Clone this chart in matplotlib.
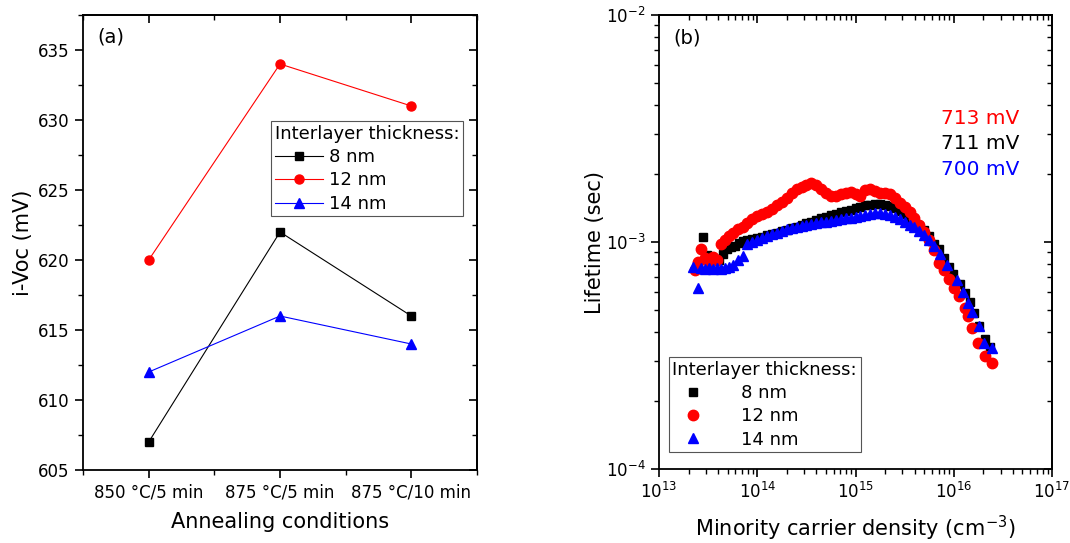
import matplotlib

matplotlib.use("Agg")
import matplotlib.pyplot as plt
from matplotlib.ticker import MultipleLocator, LogLocator, NullFormatter

# panel (a): implied Voc per annealing condition
conditions = ["850 °C/5 min", "875 °C/5 min", "875 °C/10 min"]
voc_8nm = [607, 622, 616]
voc_12nm = [620, 634, 631]
voc_14nm = [612, 616, 614]

# panel (b): lifetime vs minority carrier density
dens_12nm = [2.34e13, 2.51e13, 2.69e13, 2.95e13, 3.24e13, 3.55e13, 3.89e13, 4.27e13,
             4.68e13, 5.13e13, 5.62e13, 6.31e13, 7.08e13, 7.94e13, 8.91e13,
             1.00e14, 1.12e14, 1.26e14, 1.41e14, 1.58e14, 1.78e14, 2.00e14, 2.24e14,
             2.51e14, 2.82e14, 3.16e14, 3.55e14, 3.98e14, 4.47e14, 5.01e14, 5.62e14,
             6.31e14, 7.08e14, 7.94e14, 8.91e14,
             1.00e15, 1.12e15, 1.26e15, 1.41e15, 1.58e15, 1.78e15, 2.00e15, 2.24e15,
             2.51e15, 2.82e15, 3.16e15, 3.55e15, 3.98e15, 4.47e15, 5.01e15, 5.62e15,
             6.31e15, 7.08e15, 7.94e15, 8.91e15,
             1.00e16, 1.12e16, 1.29e16, 1.41e16, 1.55e16, 1.78e16, 2.09e16, 2.45e16]
tau_12nm = [7.5e-4, 8.2e-4, 9.3e-4, 8.5e-4, 8.2e-4, 8.6e-4, 8.3e-4, 9.8e-4,
            1.02e-3, 1.06e-3, 1.10e-3, 1.14e-3, 1.17e-3, 1.21e-3, 1.26e-3,
            1.30e-3, 1.33e-3, 1.36e-3, 1.40e-3, 1.45e-3, 1.50e-3, 1.57e-3, 1.64e-3,
            1.71e-3, 1.75e-3, 1.79e-3, 1.82e-3, 1.78e-3, 1.71e-3, 1.64e-3, 1.59e-3,
            1.60e-3, 1.63e-3, 1.64e-3, 1.66e-3,
            1.62e-3, 1.59e-3, 1.70e-3, 1.72e-3, 1.68e-3, 1.65e-3, 1.64e-3, 1.62e-3,
            1.56e-3, 1.49e-3, 1.42e-3, 1.35e-3, 1.27e-3, 1.19e-3, 1.11e-3, 1.02e-3,
            9.2e-4, 8.1e-4, 7.5e-4, 6.9e-4,
            6.3e-4, 5.8e-4, 5.1e-4, 4.7e-4, 4.2e-4, 3.6e-4, 3.15e-4, 2.93e-4]

dens_8nm = [2.82e13, 3.09e13, 3.39e13, 3.72e13, 4.07e13, 4.47e13, 4.90e13, 5.37e13,
            5.89e13, 6.46e13, 7.08e13, 7.94e13, 8.91e13,
            1.00e14, 1.12e14, 1.26e14, 1.41e14, 1.58e14, 1.78e14, 2.00e14, 2.24e14,
            2.51e14, 2.82e14, 3.16e14, 3.55e14, 3.98e14, 4.47e14, 5.01e14, 5.62e14,
            6.31e14, 7.08e14, 7.94e14, 8.91e14,
            1.00e15, 1.12e15, 1.26e15, 1.41e15, 1.58e15, 1.78e15, 2.00e15, 2.24e15,
            2.51e15, 2.82e15, 3.16e15, 3.55e15, 3.98e15, 4.47e15, 5.01e15, 5.62e15,
            6.31e15, 7.08e15, 7.94e15, 8.91e15, 9.77e15,
            1.15e16, 1.29e16, 1.45e16, 1.62e16, 1.82e16, 2.09e16, 2.34e16]
tau_8nm = [1.05e-3, 8.8e-4, 8.6e-4, 8.4e-4, 8.3e-4, 8.9e-4, 9.3e-4, 9.5e-4,
           9.6e-4, 9.9e-4, 1.01e-3, 1.02e-3, 1.03e-3,
           1.04e-3, 1.05e-3, 1.07e-3, 1.08e-3, 1.10e-3, 1.12e-3, 1.13e-3, 1.15e-3,
           1.17e-3, 1.19e-3, 1.21e-3, 1.23e-3, 1.25e-3, 1.27e-3, 1.29e-3, 1.31e-3,
           1.33e-3, 1.35e-3, 1.37e-3, 1.39e-3,
           1.41e-3, 1.43e-3, 1.45e-3, 1.46e-3, 1.47e-3, 1.47e-3, 1.46e-3, 1.44e-3,
           1.41e-3, 1.37e-3, 1.33e-3, 1.28e-3, 1.23e-3, 1.18e-3, 1.13e-3, 1.06e-3,
           9.8e-4, 9.3e-4, 8.5e-4, 7.8e-4, 7.2e-4,
           6.5e-4, 5.96e-4, 5.44e-4, 4.87e-4, 4.26e-4, 3.75e-4, 3.45e-4]

dens_14nm = [2.24e13, 2.51e13, 2.69e13, 2.95e13, 3.24e13, 3.55e13, 3.89e13, 4.27e13,
             4.68e13, 5.13e13, 5.62e13, 6.31e13, 7.08e13, 7.94e13, 8.91e13,
             1.00e14, 1.12e14, 1.26e14, 1.41e14, 1.58e14, 1.78e14, 2.00e14, 2.24e14,
             2.51e14, 2.82e14, 3.16e14, 3.55e14, 3.98e14, 4.47e14, 5.01e14, 5.62e14,
             6.31e14, 7.08e14, 7.94e14, 8.91e14,
             1.00e15, 1.12e15, 1.26e15, 1.41e15, 1.58e15, 1.78e15, 2.00e15, 2.24e15,
             2.51e15, 2.82e15, 3.16e15, 3.55e15, 3.98e15, 4.47e15, 5.01e15, 5.62e15,
             6.31e15, 7.24e15, 8.51e15,
             1.07e16, 1.23e16, 1.38e16, 1.55e16, 1.82e16, 2.04e16, 2.45e16]
tau_14nm = [7.8e-4, 6.3e-4, 7.7e-4, 7.6e-4, 7.7e-4, 7.6e-4, 7.7e-4, 7.6e-4,
            7.7e-4, 7.8e-4, 7.9e-4, 8.3e-4, 8.7e-4, 9.8e-4, 1.00e-3,
            1.02e-3, 1.04e-3, 1.06e-3, 1.08e-3, 1.10e-3, 1.12e-3, 1.14e-3, 1.15e-3,
            1.17e-3, 1.18e-3, 1.19e-3, 1.20e-3, 1.21e-3, 1.22e-3, 1.23e-3, 1.24e-3,
            1.25e-3, 1.26e-3, 1.27e-3, 1.28e-3,
            1.29e-3, 1.30e-3, 1.31e-3, 1.33e-3, 1.34e-3, 1.34e-3, 1.33e-3, 1.31e-3,
            1.29e-3, 1.26e-3, 1.23e-3, 1.19e-3, 1.16e-3, 1.12e-3, 1.07e-3, 1.02e-3,
            9.6e-4, 8.9e-4, 7.9e-4,
            6.8e-4, 6.0e-4, 5.4e-4, 4.9e-4, 4.26e-4, 3.6e-4, 3.4e-4]

voc_labels = ["713 mV", "711 mV", "700 mV"]
voc_colors = ["#ff0000", "#000000", "#0000ff"]

RED = "#ff0000"
BLUE = "#0000ff"
BLACK = "#000000"

plt.rcParams.update({
    "font.family": "DejaVu Sans",
    "font.size": 12,
    "axes.linewidth": 1.3,
    "xtick.major.width": 1.2,
    "ytick.major.width": 1.2,
    "xtick.minor.width": 1.0,
    "ytick.minor.width": 1.0,
    "xtick.major.size": 6,
    "ytick.major.size": 6,
    "xtick.minor.size": 3.5,
    "ytick.minor.size": 3.5,
})


def mirror_ticks(ax):
    # Origin style: outward ticks left/bottom, inward ticks top/right
    ax.tick_params(which="both", direction="out", top=False, right=False)
    top = ax.secondary_xaxis("top")
    right = ax.secondary_yaxis("right")
    top.tick_params(which="both", direction="in")
    right.tick_params(which="both", direction="in")
    return top, right


fig = plt.figure(figsize=(10.7, 5.43), dpi=100)
ax1 = fig.add_axes([0.0776, 0.1344, 0.3682, 0.838])
ax2 = fig.add_axes([0.6159, 0.1362, 0.3673, 0.8362])

# (a)
x = range(1, len(conditions) + 1)
ax1.plot(x, voc_8nm, "-s", color=BLACK, lw=0.8, ms=6, label="8 nm")
ax1.plot(x, voc_12nm, "-o", color=RED, lw=0.8, ms=6.5, label="12 nm")
ax1.plot(x, voc_14nm, "-^", color=BLUE, lw=0.8, ms=7, label="14 nm")
ax1.set_xlim(0.5, 3.5)
ax1.set_ylim(605, 637.5)
ax1.set_xticks(list(x))
ax1.set_xticklabels(conditions)
ax1.xaxis.set_minor_locator(MultipleLocator(0.5))
ax1.yaxis.set_major_locator(MultipleLocator(5))
ax1.yaxis.set_minor_locator(MultipleLocator(2.5))
top, right = mirror_ticks(ax1)
top.set_xticks(list(x))
top.xaxis.set_minor_locator(MultipleLocator(0.5))
top.set_xticklabels([])
right.yaxis.set_major_locator(MultipleLocator(5))
right.yaxis.set_minor_locator(MultipleLocator(2.5))
right.set_yticklabels([])
ax1.set_xlabel("Annealing conditions", fontsize=15, labelpad=8)
ax1.set_ylabel("i-Voc (mV)", fontsize=15, labelpad=4)
ax1.text(0.036, 0.952, "(a)", transform=ax1.transAxes, fontsize=14, va="center")
leg1 = ax1.legend(title="Interlayer thickness:", loc="upper left",
                  bbox_to_anchor=(0.477, 0.767), fontsize=13, title_fontsize=13,
                  alignment="left", frameon=True, fancybox=False, edgecolor="#555555",
                  framealpha=1, borderpad=0.2, labelspacing=0.3, handlelength=2.7,
                  handletextpad=0.3, borderaxespad=0)
leg1.get_frame().set_linewidth(0.8)

# (b)
ax2.plot(dens_8nm, tau_8nm, "s", color=BLACK, ms=6, ls="none", label="8 nm")
ax2.plot(dens_12nm, tau_12nm, "o", color=RED, ms=7.5, ls="none", label="12 nm")
ax2.plot(dens_14nm, tau_14nm, "^", color=BLUE, ms=7.5, ls="none", label="14 nm")
ax2.set_xscale("log")
ax2.set_yscale("log")
ax2.set_xlim(1e13, 1e17)
ax2.set_ylim(1e-4, 1e-2)
ax2.xaxis.set_major_locator(LogLocator(base=10))
ax2.xaxis.set_minor_locator(LogLocator(base=10, subs=range(2, 10)))
ax2.yaxis.set_minor_locator(LogLocator(base=10, subs=range(2, 10)))
ax2.xaxis.set_minor_formatter(NullFormatter())
ax2.yaxis.set_minor_formatter(NullFormatter())
top2, right2 = mirror_ticks(ax2)
for sec_axis in (top2.xaxis, right2.yaxis):
    sec_axis.set_major_locator(LogLocator(base=10))
    sec_axis.set_minor_locator(LogLocator(base=10, subs=range(2, 10)))
    sec_axis.set_major_formatter(NullFormatter())
    sec_axis.set_minor_formatter(NullFormatter())
ax2.set_xlabel("Minority carrier density (cm$^{-3}$)", fontsize=15, labelpad=8)
ax2.set_ylabel("Lifetime (sec)", fontsize=15, labelpad=1)
ax2.text(0.036, 0.949, "(b)", transform=ax2.transAxes, fontsize=14, va="center")
for i, (lab, col) in enumerate(zip(voc_labels, voc_colors)):
    ax2.text(0.916, 0.773 - 0.057 * i, lab, color=col, fontsize=14.5,
             transform=ax2.transAxes, ha="right", va="center")
leg2 = ax2.legend(title="Interlayer thickness:", loc="upper left",
                  bbox_to_anchor=(0.025, 0.247), fontsize=13, title_fontsize=13,
                  alignment="left", frameon=True, fancybox=False, edgecolor="#555555",
                  framealpha=1, borderpad=0.2, labelspacing=0.3, handlelength=2.3,
                  handletextpad=1.5, borderaxespad=0)
leg2.get_frame().set_linewidth(0.8)

fig.savefig("out.png", dpi=100)
